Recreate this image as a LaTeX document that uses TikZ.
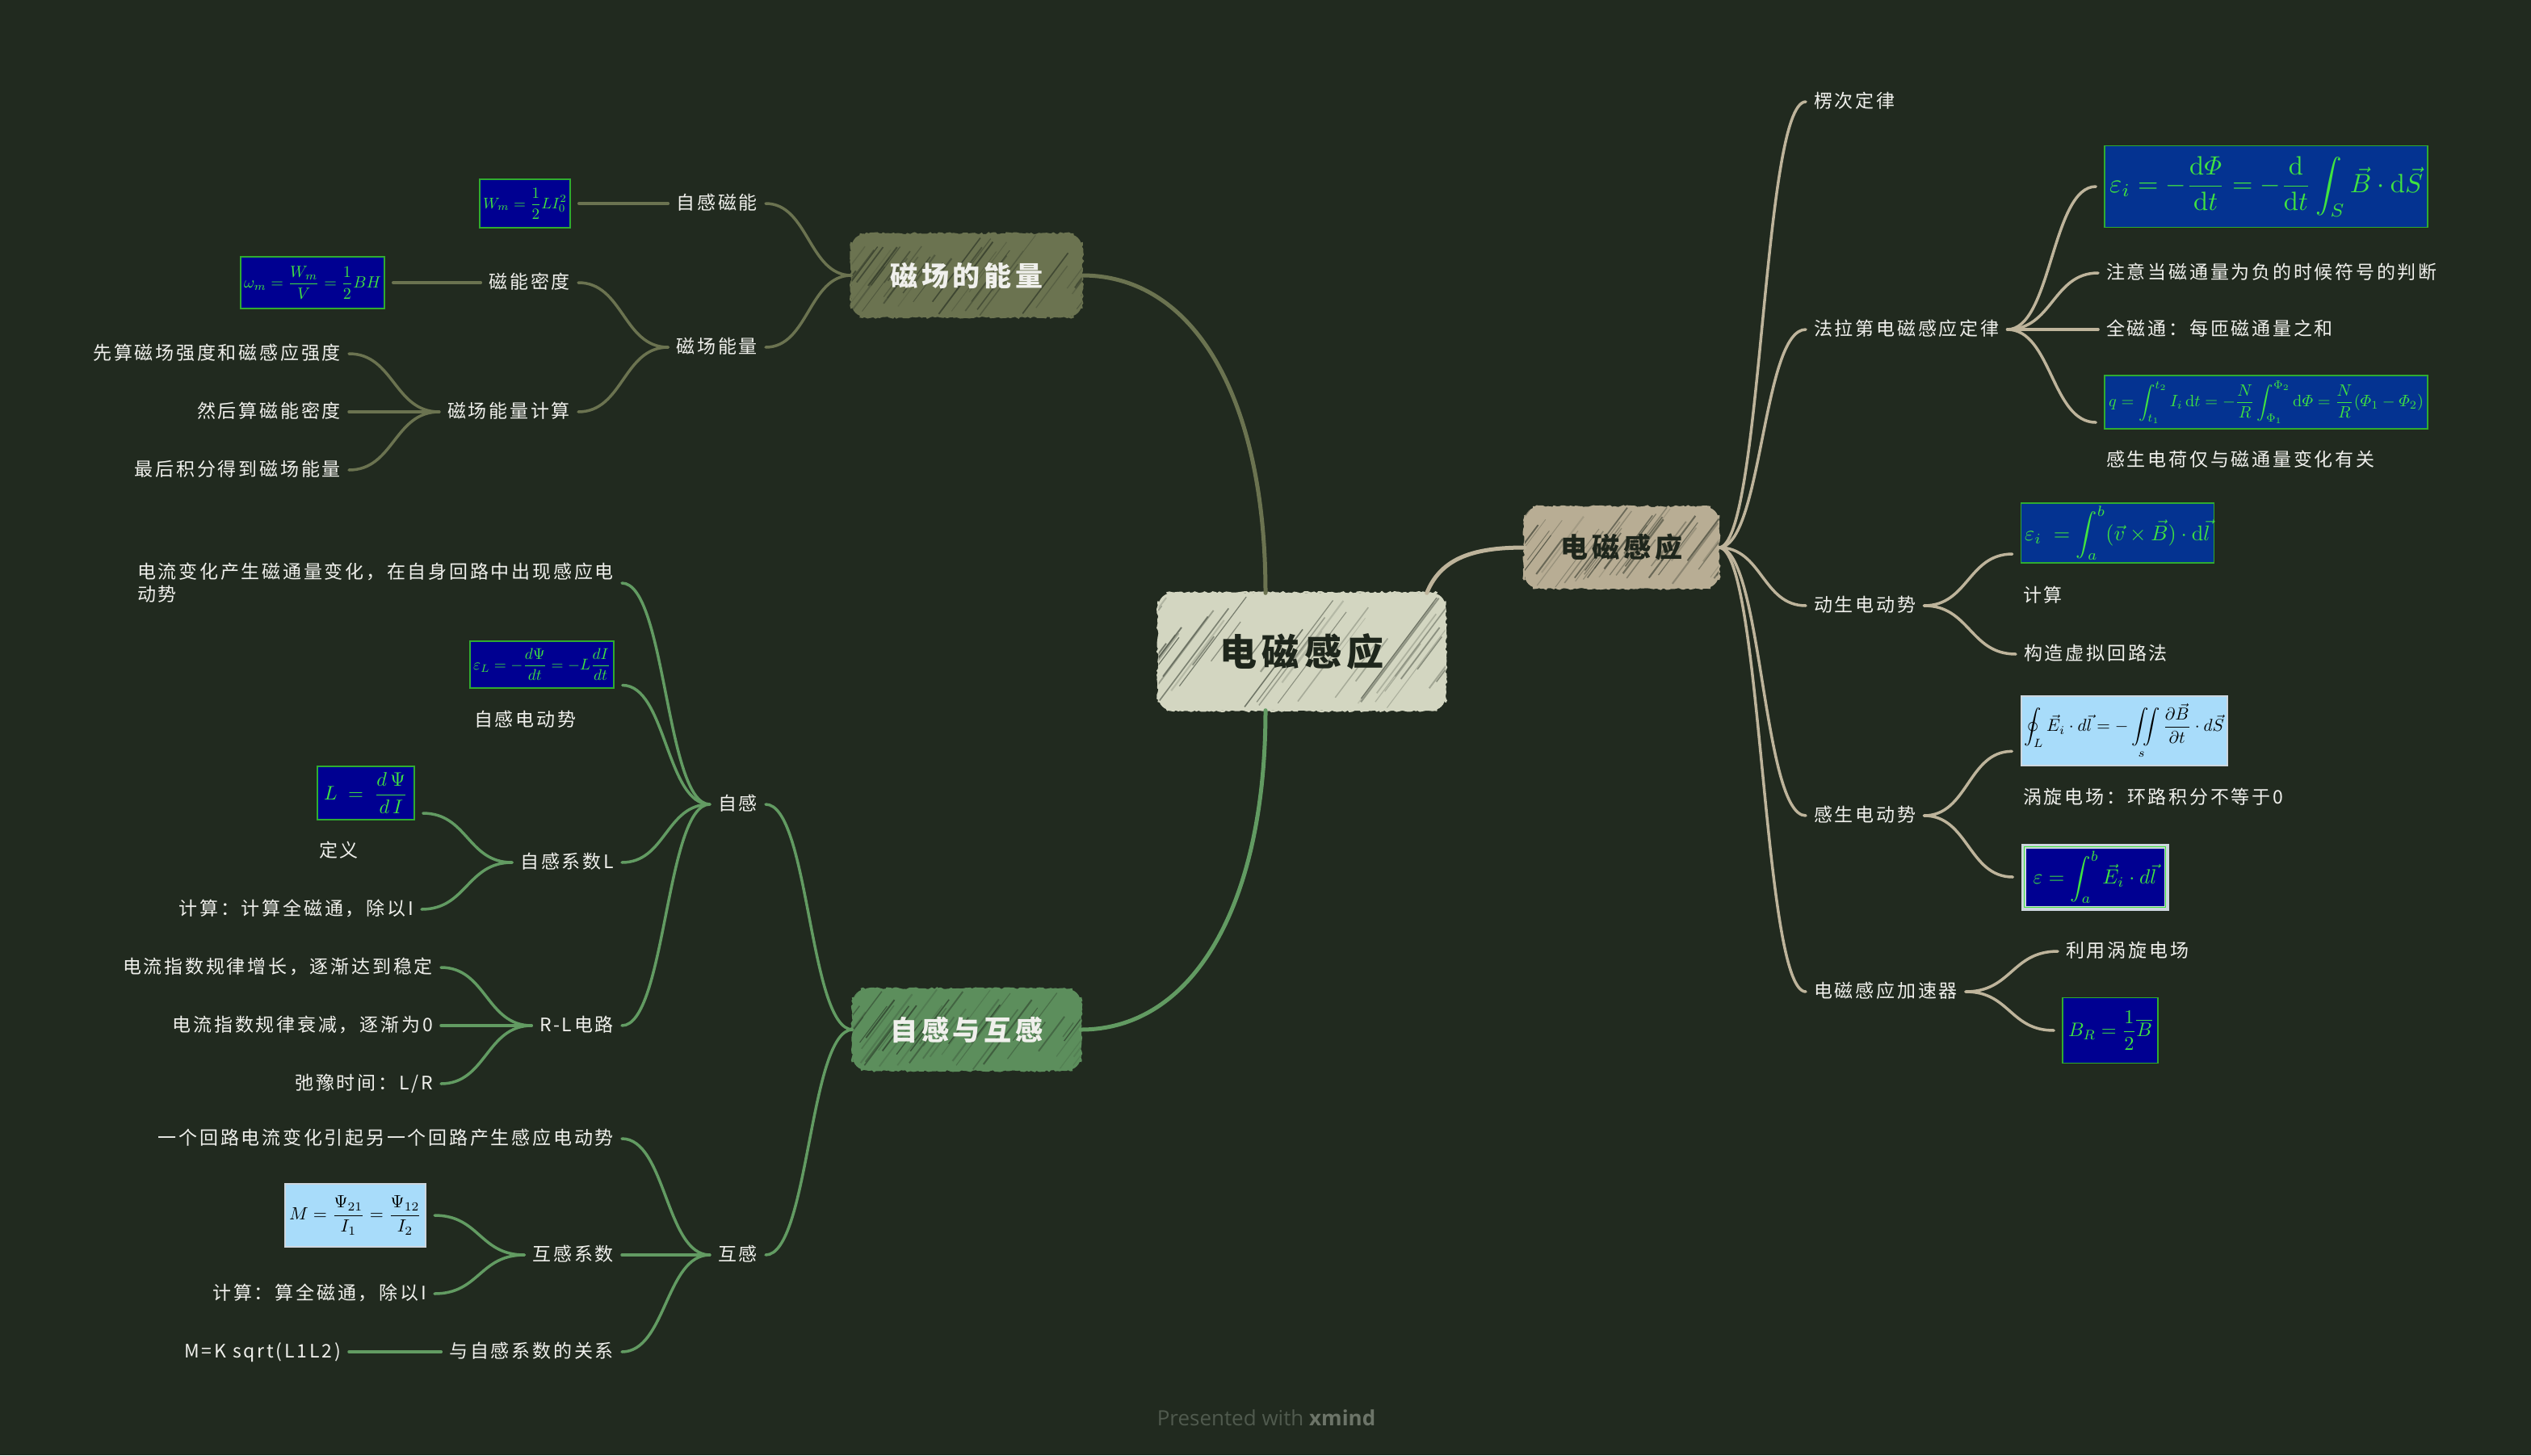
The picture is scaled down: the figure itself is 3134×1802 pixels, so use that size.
\documentclass[tikz,border=0pt]{standalone}
\usepackage{amsmath,amssymb}
\usepackage{graphicx}
\usepackage{fontspec}
\usetikzlibrary{calc,fit,decorations.pathmorphing}
\newfontfamily\cjktxt[LetterSpace=12]{Noto Sans CJK SC}
\newfontfamily\cjkhead[LetterSpace=14]{Noto Sans CJK SC}
\newfontfamily\footfont{Open Sans}
\definecolor{bg}{RGB}{33,42,31}
\definecolor{olivec}{RGB}{107,115,80}
\definecolor{grnc}{RGB}{92,142,92}
\definecolor{grnline}{RGB}{98,155,98}
\definecolor{tanc}{RGB}{184,173,148}
\definecolor{tanline}{RGB}{190,180,155}
\definecolor{rootc}{RGB}{211,214,193}
\definecolor{dkblue}{RGB}{0,0,145}
\definecolor{mdblue}{RGB}{4,51,145}
\definecolor{ltblue}{RGB}{168,220,250}
\definecolor{fgreen}{RGB}{64,228,64}
\definecolor{txtw}{RGB}{240,240,236}
\definecolor{darkc}{RGB}{30,38,28}
\definecolor{ltgray}{RGB}{205,214,222}
\definecolor{footc}{RGB}{80,90,78}
\definecolor{footb}{RGB}{108,116,104}
\newsavebox\fmlbox
\newlength\fmlw
\newlength\fmlh
\newcommand\fitf[3]{%
 \sbox\fmlbox{$\displaystyle #3$}%
 \setlength\fmlw{\wd\fmlbox}%
 \setlength\fmlh{\ht\fmlbox}\addtolength\fmlh{\dp\fmlbox}%
 \pgfmathsetmacro\fsa{#1/\fmlw}%
 \pgfmathsetmacro\fsb{#2/\fmlh}%
 \pgfmathsetmacro\fsc{min(\fsa,\fsb)}%
 \scalebox{\fsc}{\usebox\fmlbox}}
\newcommand\hatchnode[9]{%
 \pgfmathsetmacro\hxa{#2-#4/2}\pgfmathsetmacro\hxb{#2+#4/2}%
 \pgfmathsetmacro\hya{#3-#5/2}\pgfmathsetmacro\hyb{#3+#5/2}%
 \fill[#6, rounded corners=16pt] (\hxa,\hya) rectangle (\hxb,\hyb);
 \draw[#6, line width=2.5pt, decorate, decoration={random steps, segment length=3pt, amplitude=1.3pt}] (\hxa+10,\hya) -- (\hxb-10,\hya) (\hxb,\hya+10) -- (\hxb,\hyb-10) (\hxb-10,\hyb) -- (\hxa+10,\hyb) (\hxa,\hyb-10) -- (\hxa,\hya+10);
 \begin{scope}
 \clip[rounded corners=16pt] (\hxa,\hya) rectangle (\hxb,\hyb);
 \foreach \k in {1,...,48}{%
   \pgfmathsetmacro\xs{\hxa-0.75*#5+(#4+0.75*#5)*rnd}%
   \pgfmathsetmacro\ta{0.45*rnd}%
   \pgfmathsetmacro\tb{0.55+0.45*rnd}%
   \pgfmathsetmacro\op{0.12+0.45*rnd}%
   \pgfmathsetmacro\lw{0.8+1.4*rnd}%
   \draw[#7, opacity=\op, line width=\lw pt] (\xs+0.75*#5*\ta, \hyb-#5*\ta) -- (\xs+0.75*#5*\tb, \hyb-#5*\tb);
 }
 \end{scope}
 \node[#8, minimum width=#4, minimum height=#5] (#1) at (#2,#3) {#9};
}
\tikzset{
 txt/.style={font=\cjktxt\fontsize{23}{28}\selectfont, text=txtw, inner xsep=10pt, inner ysep=3pt, text height=19pt, text depth=4pt},
 ltxt/.style={txt, anchor=east},
 rtxt/.style={txt, anchor=west},
 lbl/.style={font=\cjktxt\fontsize{23}{28}\selectfont, text=txtw, inner sep=0pt, text height=19pt, text depth=4pt, anchor=west},
 headw/.style={font=\cjkhead\bfseries\fontsize{34}{40}\selectfont, text=txtw, inner sep=0pt},
 headd/.style={font=\cjkhead\bfseries\fontsize{34}{40}\selectfont, text=darkc, inner sep=0pt},
 roottxt/.style={font=\cjkhead\bfseries\fontsize{46}{52}\selectfont, text=darkc, inner sep=0pt},
 topic/.style={inner xsep=10pt, inner ysep=0pt},
 fdk/.style={fill=dkblue, draw=fgreen!75!black, line width=1.2pt, text=fgreen, inner sep=0pt},
 fmd/.style={fill=mdblue, draw=fgreen!75!black, line width=1.2pt, text=fgreen, inner sep=0pt},
 flt/.style={fill=ltblue, draw=ltgray, line width=2pt, text=black, inner sep=0pt},
 cl/.style={line width=3.5pt, line cap=round},
 co/.style={cl, draw=olivec},
 cg/.style={cl, draw=grnline},
 ct/.style={cl, draw=tanline},
 elbow/.style={to path={let \p1=(\tikztostart), \p2=(\tikztotarget) in .. controls ({(\x1+\x2)/2},\y1) and ({(\x1+\x2)/2},\y2) .. (\tikztotarget)}},
}
\begin{document}
\begin{tikzpicture}[x=1pt,y=-1pt]
\pgfmathsetseed{4242}
\useasboundingbox (0,0) rectangle (3134,1802);
\fill[bg] (0,0) rectangle (3134,1802);

% ---------- main nodes
\hatchnode{root}{1612}{807}{355}{145}{rootc}{darkc}{roottxt}{电磁感应}
\hatchnode{b1}{1197}{341}{285}{102}{olivec}{darkc}{headw}{磁场的能量}
\hatchnode{b2}{1197}{1275}{282}{100}{grnc}{darkc}{headw}{自感与互感}
\hatchnode{b3}{2008}{678}{240}{100}{tanc}{darkc}{headd}{电磁感应}

% ---------- left upper subtree
\node[ltxt] (n11) at (948,252) {自感磁能};
\node[ltxt] (n12) at (948,430) {磁场能量};
\node[ltxt] (n121) at (716,350) {磁能密度};
\node[ltxt] (n122) at (716,510) {磁场能量计算};
\node[ltxt] (n1221) at (432,438) {先算磁场强度和磁感应强度};
\node[ltxt] (n1222) at (432,510) {然后算磁能密度};
\node[ltxt] (n1223) at (432,582) {最后积分得到磁场能量};
\node[fdk, minimum width=112, minimum height=60] (f1) at (650,252) {\fitf{104}{54}{W_m=\frac{1}{2}LI_0^2}};
\node[topic, fit=(f1)] (t1) {};
\node[fdk, minimum width=178, minimum height=64] (f2) at (387,350) {\fitf{170}{58}{\omega_m=\frac{W_m}{V}=\frac{1}{2}BH}};
\node[topic, fit=(f2)] (t2) {};

% ---------- left lower subtree
\node[ltxt] (n21) at (948,996) {自感};
\node[ltxt] (n22) at (948,1554) {互感};
\node[font=\cjktxt\fontsize{23}{28}\selectfont, text=txtw, inner xsep=10pt, inner ysep=3pt, align=left, anchor=east] (n211) at (770,722) {电流变化产生磁通量变化，在自身回路中出现感应电\\动势};
\node[fdk, minimum width=178, minimum height=58] (f3) at (671,823) {\fitf{170}{52}{\varepsilon_L=-\frac{d\Psi}{dt}=-L\frac{dI}{dt}}};
\node[lbl] (l3) at (587,892) {自感电动势};
\node[topic, fit=(f3)(l3)] (t3) {};
\node[ltxt] (n213) at (770,1068) {自感系数L};
\node[ltxt] (n214) at (770,1270) {R-L电路};
\node[fdk, minimum width=120, minimum height=66] (f4) at (453,982) {\fitf{104}{60}{L\;=\;\frac{d\,\Psi}{d\,I}}};
\node[lbl] (l4) at (395,1054) {定义};
\node[topic, fit=(f4)(l4)] (t4) {};
\node[ltxt] (n2132) at (522,1126) {计算：计算全磁通，除以I};
\node[ltxt] (n2141) at (546,1198) {电流指数规律增长，逐渐达到稳定};
\node[ltxt] (n2142) at (546,1270) {电流指数规律衰减，逐渐为0};
\node[ltxt] (n2143) at (546,1342) {弛豫时间：L/R};
\node[ltxt] (n221) at (770,1410) {一个回路电流变化引起另一个回路产生感应电动势};
\node[ltxt] (n222) at (770,1554) {互感系数};
\node[ltxt] (n223) at (770,1674) {与自感系数的关系};
\node[flt, minimum width=174, minimum height=78] (f5) at (440,1505) {\fitf{164}{70}{M=\frac{\Psi_{21}}{I_1}=\frac{\Psi_{12}}{I_2}}};
\node[topic, fit=(f5)] (t5) {};
\node[ltxt] (n2222) at (538,1602) {计算：算全磁通，除以I};
\node[ltxt] (n2231) at (432,1674) {M=K sqrt(L1L2)};

% ---------- right subtree
\node[rtxt] (n31) at (2236,126) {楞次定律};
\node[rtxt] (n32) at (2236,408) {法拉第电磁感应定律};
\node[rtxt] (n33) at (2236,750) {动生电动势};
\node[rtxt] (n34) at (2236,1010) {感生电动势};
\node[rtxt] (n35) at (2236,1228) {电磁感应加速器};
\node[fmd, minimum width=400, minimum height=101] (f6) at (2806,231) {\fitf{388}{90}{\varepsilon_i=-\frac{\mathrm{d}\varPhi}{\mathrm{d}t}=-\frac{\mathrm{d}}{\mathrm{d}t}\int_S\vec{B}\cdot\mathrm{d}\vec{S}}};
\node[topic, fit=(f6)] (t6) {};
\node[rtxt] (n322) at (2598,338) {注意当磁通量为负的时候符号的判断};
\node[rtxt] (n323) at (2598,408) {全磁通：每匝磁通量之和};
\node[fmd, minimum width=400, minimum height=66] (f7) at (2806,498) {\fitf{390}{62}{q=\int_{t_1}^{t_2}I_i\,\mathrm{d}t=-\frac{N}{R}\int_{\Phi_1}^{\Phi_2}\mathrm{d}\varPhi=\frac{N}{R}(\varPhi_1-\varPhi_2)}};
\node[lbl] (l7) at (2608,570) {感生电荷仅与磁通量变化有关};
\node[topic, fit=(f7)(l7)] (t7) {};
\node[fmd, minimum width=239, minimum height=74] (f8) at (2622,660) {\fitf{230}{66}{\varepsilon_i\;=\int_a^b(\vec{v}\times\vec{B})\cdot\mathrm{d}\vec{l}}};
\node[lbl] (l8) at (2505,738) {计算};
\node[topic, fit=(f8)(l8)] (t8) {};
\node[rtxt] (n332) at (2496,810) {构造虚拟回路法};
\node[flt, minimum width=255, minimum height=86] (f9) at (2630,905) {\fitf{248}{80}{\oint_L\vec{E}_i\cdot d\vec{l}=-\iint\limits_s\frac{\partial\vec{B}}{\partial t}\cdot d\vec{S}}};
\node[lbl] (l9) at (2505,988) {涡旋电场：环路积分不等于0};
\node[topic, fit=(f9)(l9)] (t9) {};
\node[fill=dkblue, draw=ltgray, line width=6pt, text=fgreen, inner sep=0pt, minimum width=177, minimum height=77] (f10) at (2594,1086) {\fitf{160}{64}{\varepsilon=\int_a^b\vec{E}_i\cdot d\vec{l}}};
\draw[fgreen, line width=1.5pt] ([shift={(4,4)}]f10.north west) rectangle ([shift={(-4,-4)}]f10.south east);
\node[topic, fit=(f10)] (t10) {};
\node[rtxt] (n351) at (2548,1178) {利用涡旋电场};
\node[fdk, minimum width=118, minimum height=81] (f11) at (2613,1276) {\fitf{104}{72}{B_R=\frac{1}{2}\overline{B}}};
\node[topic, fit=(f11)] (t11) {};

% ---------- connectors from root
\draw[co, line width=5pt] ($(root.north)+(-45,0)$) .. controls +(0,-240) and +(140,0) .. (b1.east);
\draw[cg, line width=5pt] ($(root.south)+(-45,0)$) .. controls +(0,240) and +(140,0) .. (b2.east);
\draw[ct, line width=5pt] ($(root.north east)+(-23,0)$) .. controls +(18,-45) and +(-60,0) .. (b3.west);

% ---------- upper left
\draw[co] (b1.west) to[elbow] (n11.east);
\draw[co] (b1.west) to[elbow] (n12.east);
\draw[co] (n11.west) -- (t1.east);
\draw[co] (n12.west) to[elbow] (n121.east);
\draw[co] (n12.west) to[elbow] (n122.east);
\draw[co] (n121.west) -- (t2.east);
\draw[co] (n122.west) to[elbow] (n1221.east);
\draw[co] (n122.west) to[elbow] (n1222.east);
\draw[co] (n122.west) to[elbow] (n1223.east);

% ---------- lower left
\draw[cg] (b2.west) to[elbow] (n21.east);
\draw[cg] (b2.west) to[elbow] (n22.east);
\draw[cg] (n21.west) to[elbow] (n211.east);
\draw[cg] (n21.west) to[elbow] (t3.east);
\draw[cg] (n21.west) to[elbow] (n213.east);
\draw[cg] (n21.west) to[elbow] (n214.east);
\draw[cg] (n213.west) to[elbow] (t4.east);
\draw[cg] (n213.west) to[elbow] (n2132.east);
\draw[cg] (n214.west) to[elbow] (n2141.east);
\draw[cg] (n214.west) to[elbow] (n2142.east);
\draw[cg] (n214.west) to[elbow] (n2143.east);
\draw[cg] (n22.west) to[elbow] (n221.east);
\draw[cg] (n22.west) to[elbow] (n222.east);
\draw[cg] (n22.west) to[elbow] (n223.east);
\draw[cg] (n222.west) to[elbow] (t5.east);
\draw[cg] (n222.west) to[elbow] (n2222.east);
\draw[cg] (n223.west) -- (n2231.east);

% ---------- right
\draw[ct] (b3.east) to[elbow] (n31.west);
\draw[ct] (b3.east) to[elbow] (n32.west);
\draw[ct] (b3.east) to[elbow] (n33.west);
\draw[ct] (b3.east) to[elbow] (n34.west);
\draw[ct] (b3.east) to[elbow] (n35.west);
\draw[ct] (n32.east) to[elbow] (t6.west);
\draw[ct] (n32.east) to[elbow] (n322.west);
\draw[ct] (n32.east) to[elbow] (n323.west);
\draw[ct] (n32.east) to[elbow] (t7.west);
\draw[ct] (n33.east) to[elbow] (t8.west);
\draw[ct] (n33.east) to[elbow] (n332.west);
\draw[ct] (n34.east) to[elbow] (t9.west);
\draw[ct] (n34.east) to[elbow] (t10.west);
\draw[ct] (n35.east) to[elbow] (n351.west);
\draw[ct] (n35.east) to[elbow] (t11.west);

% ---------- footer
\node[font=\footfont\fontsize{26}{30}\selectfont, text=footc, inner sep=0pt] (foot) at (1568,1756) {Presented with \textcolor{footb}{\bfseries xmind}};
\end{tikzpicture}
\end{document}
